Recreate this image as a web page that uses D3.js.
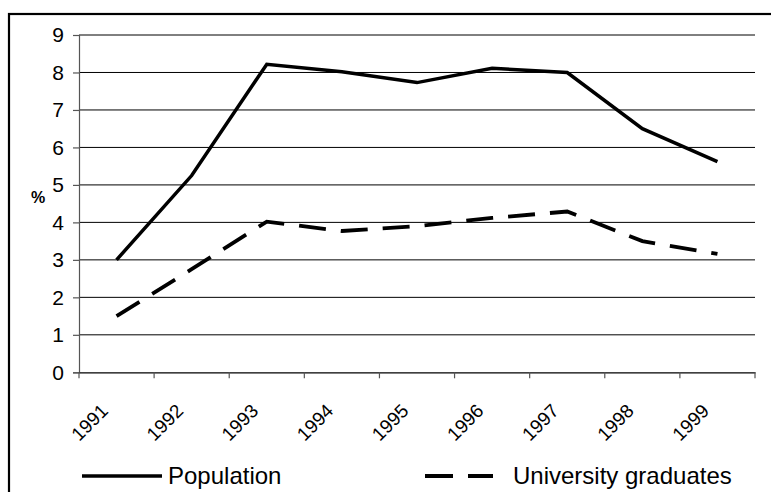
<!DOCTYPE html>
<html>
<head>
<meta charset="utf-8">
<script src="https://cdn.jsdelivr.net/npm/d3@7"></script>
<style>
  html, body { margin: 0; padding: 0; background: #fff; }
  svg { display: block; }
  text { font-family: "Liberation Sans", Arial, sans-serif; fill: #000; }
</style>
</head>
<body>
<svg id="chart" width="771" height="492"></svg>
<script>
const years = ["1991","1992","1993","1994","1995","1996","1997","1998","1999"];
const population = [3.0, 5.25, 8.22, 8.02, 7.73, 8.11, 8.0, 6.5, 5.62];
const graduates = [1.5, 2.75, 4.02, 3.77, 3.9, 4.12, 4.29, 3.5, 3.16];
const yTicks = [0,1,2,3,4,5,6,7,8,9];
const seriesNames = ["Population", "University graduates"];

(function () {
const svg = d3.select("#chart");
const mLeft = 79, mRight = 755, mTop = 35, mBottom = 372.3;

const x = d3.scaleBand().domain(years).range([mLeft, mRight]).padding(0);
const y = d3.scaleLinear().domain([0, 9]).range([mBottom, mTop]);

// outer frame (clipped at right/bottom)
svg.append("rect").attr("x", 9).attr("y", 14).attr("width", 800).attr("height", 520)
  .attr("fill", "none").attr("stroke", "#000").attr("stroke-width", 2.2);

// gridlines
svg.append("g").selectAll("line").data(yTicks.filter(d => d > 0)).join("line")
  .attr("x1", mLeft).attr("x2", mRight)
  .attr("y1", d => y(d)).attr("y2", d => y(d))
  .attr("stroke", "#000").attr("stroke-width", 1);

// y axis
const yAxis = svg.append("g").attr("transform", `translate(${mLeft},0)`)
  .call(d3.axisLeft(y).tickValues(yTicks).tickSize(6).tickPadding(9).tickFormat(d3.format("d")));
yAxis.select(".domain").attr("stroke", "#555").attr("stroke-width", 1.2);
yAxis.selectAll(".tick line").attr("stroke", "#555").attr("stroke-width", 1.2);
yAxis.selectAll("text").attr("font-size", 21).attr("font-family", "Liberation Sans, Arial, sans-serif").attr("fill", "#000");

// x axis
const xAxis = svg.append("g").attr("transform", `translate(0,${mBottom})`)
  .call(d3.axisBottom(x).tickSize(0).tickFormat(""));
xAxis.select(".domain").attr("stroke", "#000").attr("stroke-width", 1.2);
const bounds = years.map(d => x(d)).concat([x(years[years.length-1]) + x.bandwidth()]);
svg.append("g").selectAll("line").data(bounds).join("line")
  .attr("x1", d => d).attr("x2", d => d)
  .attr("y1", mBottom).attr("y2", mBottom + 6)
  .attr("stroke", "#555").attr("stroke-width", 1.2);

svg.append("g").selectAll("text").data(years).join("text")
  .attr("transform", d => `translate(${x(d) + x.bandwidth()/2 - 12},${mBottom + 35}) rotate(-45)`)
  .attr("text-anchor", "end").attr("dy", "0.35em")
  .attr("font-size", 19).text(d => d);

// y label
svg.append("text").attr("x", 38).attr("y", 203).attr("text-anchor", "middle")
  .attr("font-size", 16).attr("font-weight", "bold").text("%");

const line = d3.line().x((d, i) => x(years[i]) + x.bandwidth()/2).y(d => y(d));

svg.append("path").datum(population).attr("d", line)
  .attr("fill", "none").attr("stroke", "#000").attr("stroke-width", 3.5)
  .attr("stroke-linejoin", "miter");
svg.append("path").datum(graduates).attr("d", line)
  .attr("fill", "none").attr("stroke", "#000").attr("stroke-width", 3.8)
  .attr("stroke-dasharray", "27,15").attr("stroke-linejoin", "miter");

// legend
const lg = svg.append("g");
lg.append("line").attr("x1", 82).attr("x2", 162).attr("y1", 476).attr("y2", 476)
  .attr("stroke", "#000").attr("stroke-width", 3.5);
lg.append("text").attr("x", 168).attr("y", 476).attr("dy", "0.35em")
  .attr("font-size", 24).text(seriesNames[0]);
lg.append("line").attr("x1", 425).attr("x2", 493).attr("y1", 476).attr("y2", 476)
  .attr("stroke", "#000").attr("stroke-width", 3.8).attr("stroke-dasharray", "28,15");
lg.append("text").attr("x", 513).attr("y", 476).attr("dy", "0.35em")
  .attr("font-size", 24).text(seriesNames[1]);
})();
</script>
</body>
</html>
